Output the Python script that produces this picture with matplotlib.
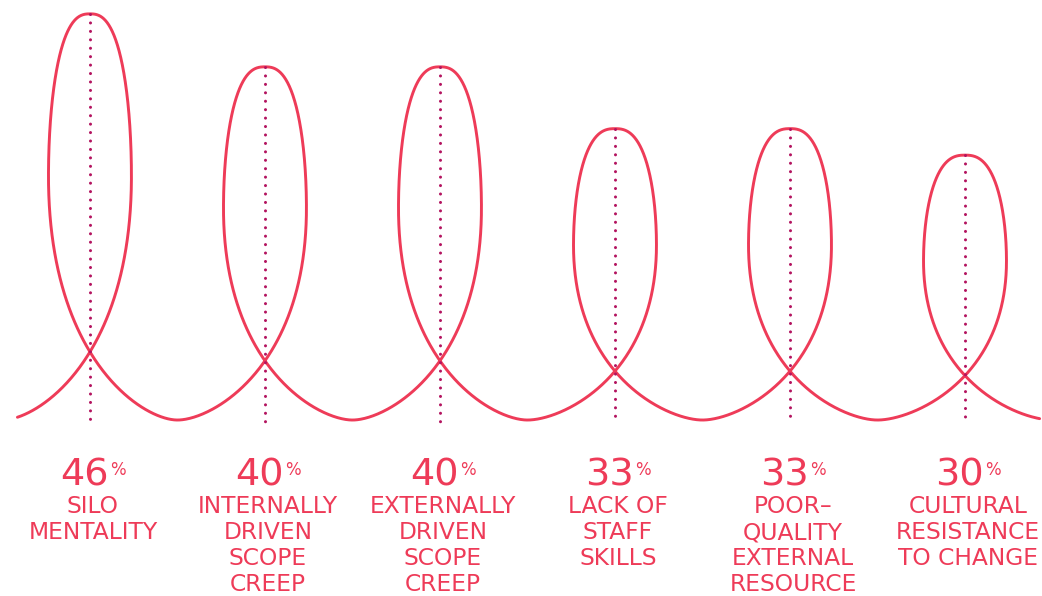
import numpy as np
import matplotlib.pyplot as plt

# survey results: share of respondents naming each obstacle
values = [46, 40, 40, 33, 33, 30]
labels = [
    "SILO\nMENTALITY",
    "INTERNALLY\nDRIVEN\nSCOPE\nCREEP",
    "EXTERNALLY\nDRIVEN\nSCOPE\nCREEP",
    "LACK OF\nSTAFF\nSKILLS",
    "POOR–\nQUALITY\nEXTERNAL\nRESOURCE",
    "CULTURAL\nRESISTANCE\nTO CHANGE",
]

RED = "#EE3B58"
DOT = "#B3135F"
PX = 72 / 100  # points per pixel at dpi 100
FONT = ["DejaVu Sans"]

fig = plt.figure(figsize=(10.42, 5.96), dpi=100)
ax = fig.add_axes([0, 0, 1, 1])
ax.set_xlim(-0.514, 5.44)
ax.set_ylim(-19.93, 47.57)
ax.axis("off")


def bezier(p0, p1, p2, p3, n=200):
    t = np.linspace(0, 1, n)[:, None]
    return ((1 - t) ** 3 * p0 + 3 * (1 - t) ** 2 * t * p1
            + 3 * (1 - t) * t ** 2 * p2 + t ** 3 * p3)


def loop(cx, h, w=0.237, reach=0.2, flat=0.78):
    """One loop of the ribbon: valley -> up the right side -> over the top
    -> down the left side -> next valley. h is the loop height."""
    ym = 0.6 * h
    low = bezier(np.array([cx - 0.5, 0]), np.array([cx - 0.5 + reach, 0]),
                 np.array([cx + w, ym - 0.45 * h]), np.array([cx + w, ym]))
    phi = np.linspace(0, np.pi / 2, 300)
    ux = w * np.cos(phi) ** flat
    uy = ym + 0.4 * h * np.sin(phi)
    right = np.column_stack([cx + ux, uy])
    left = np.column_stack([cx - ux, uy])[::-1]
    down = np.column_stack([2 * cx - low[:, 0], low[:, 1]])[::-1]
    return np.vstack([low, right, left, down])


path = np.vstack([loop(i, v) for i, v in enumerate(values)])
keep = (path[:, 0] >= -0.417) & (path[:, 0] <= 5.429)
ax.plot(path[keep, 0], path[keep, 1], color=RED, lw=2.1,
        solid_capstyle="round", solid_joinstyle="round", zorder=2)

# dotted centre lines from each loop top down past the baseline
for i, v in enumerate(values):
    ax.plot([i, i], [v, -0.4], color=DOT, lw=2.2,
            linestyle=(0, (0.01, 2.75)), dash_capstyle="round", zorder=3)

# value + label under each loop
nums, pcts = [], []
for i, (v, lab) in enumerate(zip(values, labels)):
    n = ax.annotate(str(v), xy=(i, 0), xytext=(0, -65 * PX), textcoords="offset points",
                    ha="left", va="baseline", fontsize=27.5, color=RED, family=FONT)
    p = ax.annotate("%", xy=(i, 0), xytext=(0, -55 * PX), textcoords="offset points",
                    ha="left", va="baseline", fontsize=12, color=RED, family=FONT)
    nums.append(n)
    pcts.append(p)
    for k, line in enumerate(lab.split("\n")):
        ax.annotate(line, xy=(i, 0), xytext=(3 * PX, -(93 + 26 * k) * PX),
                    textcoords="offset points", ha="center", va="baseline",
                    fontsize=16.8, color=RED, family=FONT)

# centre each number+percent pair on its loop
fig.canvas.draw()
r = fig.canvas.get_renderer()
for n, p in zip(nums, pcts):
    wn = n.get_window_extent(r).width
    wp = p.get_window_extent(r).width
    left = 3 - (wn + wp + 1) / 2
    n.xyann = (left * PX, n.xyann[1])
    p.xyann = ((left + wn + 1) * PX, p.xyann[1])

fig.savefig("out.png", dpi=100)
